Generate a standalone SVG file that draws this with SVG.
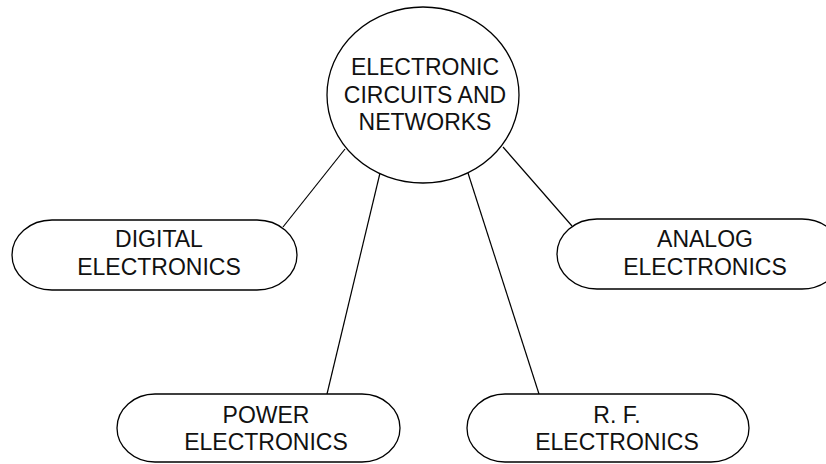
<svg xmlns="http://www.w3.org/2000/svg" width="826" height="464" viewBox="0 0 826 464">
<style>
.shape{fill:#fff;stroke:#000;stroke-width:1.3}
.conn{stroke:#000;stroke-width:1.2;fill:none}
text{font-family:"Liberation Sans",Arial,sans-serif;font-size:23px;fill:#111;text-anchor:middle}
</style>
<rect width="826" height="464" fill="#fff"/>
<g id="connectors">
<line class="conn" x1="345" y1="149" x2="283" y2="227"/>
<line class="conn" x1="503" y1="147" x2="572" y2="226"/>
<line class="conn" x1="380" y1="173" x2="327" y2="394"/>
<line class="conn" x1="468" y1="173" x2="539" y2="394"/>
</g>
<g id="center">
<ellipse class="shape" cx="423" cy="95" rx="96" ry="88"/>
<text x="425" y="75">ELECTRONIC</text>
<text x="425" y="103">CIRCUITS AND</text>
<text x="425" y="130">NETWORKS</text>
</g>
<g id="digital">
<rect class="shape" x="12" y="220" width="285" height="70" rx="40" ry="35"/>
<text x="159" y="247">DIGITAL</text>
<text x="159" y="275">ELECTRONICS</text>
</g>
<g id="analog">
<rect class="shape" x="557" y="219" width="285" height="70" rx="40" ry="35"/>
<text x="705" y="247">ANALOG</text>
<text x="705" y="275">ELECTRONICS</text>
</g>
<g id="power">
<rect class="shape" x="117" y="394" width="283" height="68" rx="38" ry="34"/>
<text x="266" y="423">POWER</text>
<text x="266" y="450">ELECTRONICS</text>
</g>
<g id="rf">
<rect class="shape" x="467" y="394" width="282" height="68" rx="38" ry="34"/>
<text x="617" y="423">R. F.</text>
<text x="617" y="450">ELECTRONICS</text>
</g>
</svg>
